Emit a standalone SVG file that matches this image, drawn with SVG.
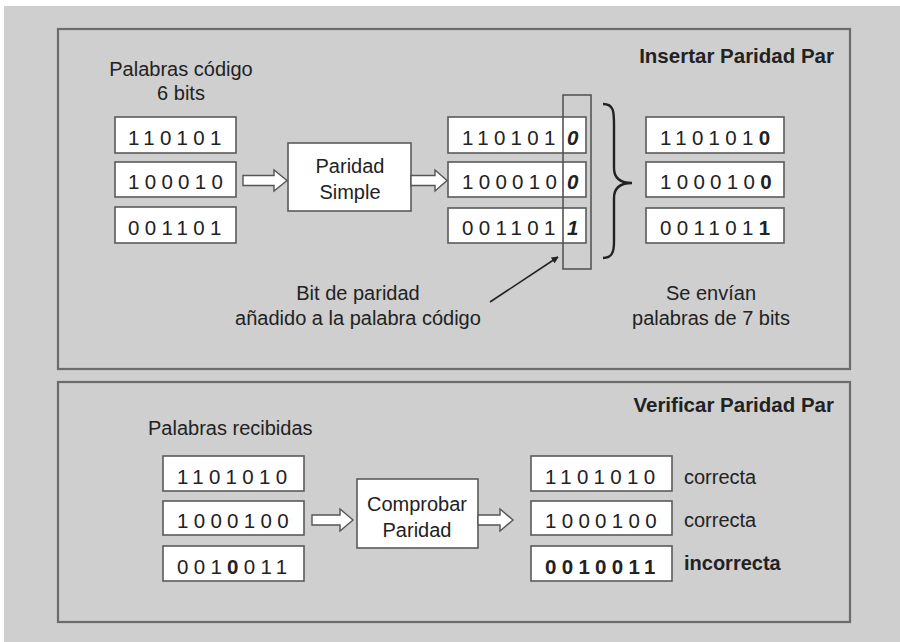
<svg xmlns="http://www.w3.org/2000/svg" width="900" height="642" viewBox="0 0 900 642">
<style>
text{font-family:"Liberation Sans",Arial,sans-serif;fill:#222}
.lbl{font-size:20px}
.ttl{font-size:20.5px;font-weight:bold;text-anchor:end}
.mid{text-anchor:middle}
.dig{font-size:20.5px;letter-spacing:5.3px}
.b{font-weight:bold}
.box{fill:#fff;stroke:#5a5a5a;stroke-width:1.6}
.panel{fill:none;stroke:#6c6c6c;stroke-width:2.2}
.harrow{fill:#fff;stroke:#555;stroke-width:1.4;stroke-linejoin:miter}
</style>
<defs>
<marker id="ah" viewBox="0 0 10 10" refX="9" refY="5" markerWidth="7" markerHeight="7" orient="auto" markerUnits="userSpaceOnUse">
<path d="M0,0 L10,5 L0,10 z" fill="#222"/>
</marker>
</defs>
<rect x="0" y="0" width="900" height="642" fill="#fff"/>
<rect x="4" y="6" width="896" height="636" fill="#cfcfcf"/>

<g id="panel-insertar">
<rect class="panel" x="58" y="29" width="792" height="340"/>
<text class="ttl" x="834" y="63">Insertar Paridad Par</text>
</g>
<g id="panel-verificar">
<rect class="panel" x="58" y="382" width="792" height="240"/>
<text class="ttl" x="834" y="412">Verificar Paridad Par</text>
</g>

<g id="label-palabras-codigo">
<text class="lbl mid" x="181" y="76">Palabras código</text>
<text class="lbl mid" x="181" y="100">6 bits</text>
</g>

<g id="in1"><rect class="box" x="115" y="117" width="121" height="36"/><text class="dig" x="128" y="145">110101</text></g>
<g id="in2"><rect class="box" x="115" y="162" width="121" height="35"/><text class="dig" x="128" y="189">100010</text></g>
<g id="in3"><rect class="box" x="115" y="207" width="121" height="36"/><text class="dig" x="128" y="235">001101</text></g>

<g id="paridad-simple"><rect class="box" x="288" y="143" width="123" height="68"/>
<text class="lbl mid" x="350" y="173">Paridad</text><text class="lbl mid" x="350" y="199">Simple</text></g>

<g id="mid1"><rect class="box" x="448" y="117" width="138" height="36"/><text class="dig" x="462" y="145">110101</text><text class="dig" x="567" y="145" font-style="italic" font-weight="600">0</text></g>
<g id="mid2"><rect class="box" x="448" y="162" width="138" height="35"/><text class="dig" x="462" y="189">100010</text><text class="dig" x="567" y="189" font-style="italic" font-weight="600">0</text></g>
<g id="mid3"><rect class="box" x="448" y="208" width="138" height="35"/><text class="dig" x="462" y="235">001101</text><text class="dig" x="567" y="235" font-style="italic" font-weight="600">1</text></g>

<g id="parity-column"><rect x="563" y="95" width="28" height="174" fill="none" stroke="#555" stroke-width="1.6"/></g>

<g id="out1"><rect class="box" x="646" y="117" width="138" height="36"/><text class="dig" x="660" y="145">110101<tspan class="b">0</tspan></text></g>
<g id="out2"><rect class="box" x="646" y="162" width="138" height="35"/><text class="dig" x="660" y="189">100010<tspan class="b">0</tspan></text></g>
<g id="out3"><rect class="box" x="646" y="208" width="138" height="35"/><text class="dig" x="660" y="235">001101<tspan class="b">1</tspan></text></g>

<g id="label-bit-paridad">
<text class="lbl mid" x="358" y="300">Bit de paridad</text>
<text class="lbl mid" x="358" y="325">añadido a la palabra código</text>
</g>
<g id="label-se-envian">
<text class="lbl mid" x="711" y="300">Se envían</text>
<text class="lbl mid" x="711" y="325">palabras de 7 bits</text>
</g>

<g id="label-recibidas"><text class="lbl" x="148" y="435">Palabras recibidas</text></g>

<g id="rx1"><rect class="box" x="163" y="456" width="141" height="35"/><text class="dig" x="177" y="484">1101010</text></g>
<g id="rx2"><rect class="box" x="163" y="501" width="141" height="34"/><text class="dig" x="177" y="528">1000100</text></g>
<g id="rx3"><rect class="box" x="163" y="546" width="141" height="35"/><text class="dig" x="177" y="574">001<tspan class="b">0</tspan>011</text></g>

<g id="comprobar"><rect class="box" x="357" y="479" width="121" height="69"/>
<text class="lbl mid" x="417" y="511">Comprobar</text><text class="lbl mid" x="417" y="537">Paridad</text></g>

<g id="res1"><rect class="box" x="531" y="456" width="141" height="35"/><text class="dig" x="545" y="484">1101010</text><text class="lbl" x="684" y="484">correcta</text></g>
<g id="res2"><rect class="box" x="531" y="501" width="141" height="34"/><text class="dig" x="545" y="528">1000100</text><text class="lbl" x="684" y="527">correcta</text></g>
<g id="res3"><rect class="box" x="531" y="546" width="141" height="35"/><text class="dig b" x="545" y="574">0010011</text><text class="lbl b" x="684" y="570">incorrecta</text></g>

<g id="connectors">
<polygon class="harrow" points="243,175.5 274,175.5 274,170 287,180.5 274,191 274,185.5 243,185.5"/>
<polygon class="harrow" points="411,175.5 435,175.5 435,170 447,180.5 435,191 435,185.5 411,185.5"/>
<polygon class="harrow" points="312,515 340,515 340,509 353,520 340,531 340,525 312,525"/>
<polygon class="harrow" points="478,515 500,515 500,509 513,520 500,531 500,525 478,525"/>
<path d="M603,104 C614,104 614,112 614,125 L614,168 C614,178 620,183 632,183 C620,183 614,188 614,198 L614,242 C614,252 612,258 603,258" fill="none" stroke="#222" stroke-width="2.4"/>
<line x1="490" y1="302" x2="558" y2="257" stroke="#222" stroke-width="1.6" marker-end="url(#ah)"/>
</g>
</svg>
